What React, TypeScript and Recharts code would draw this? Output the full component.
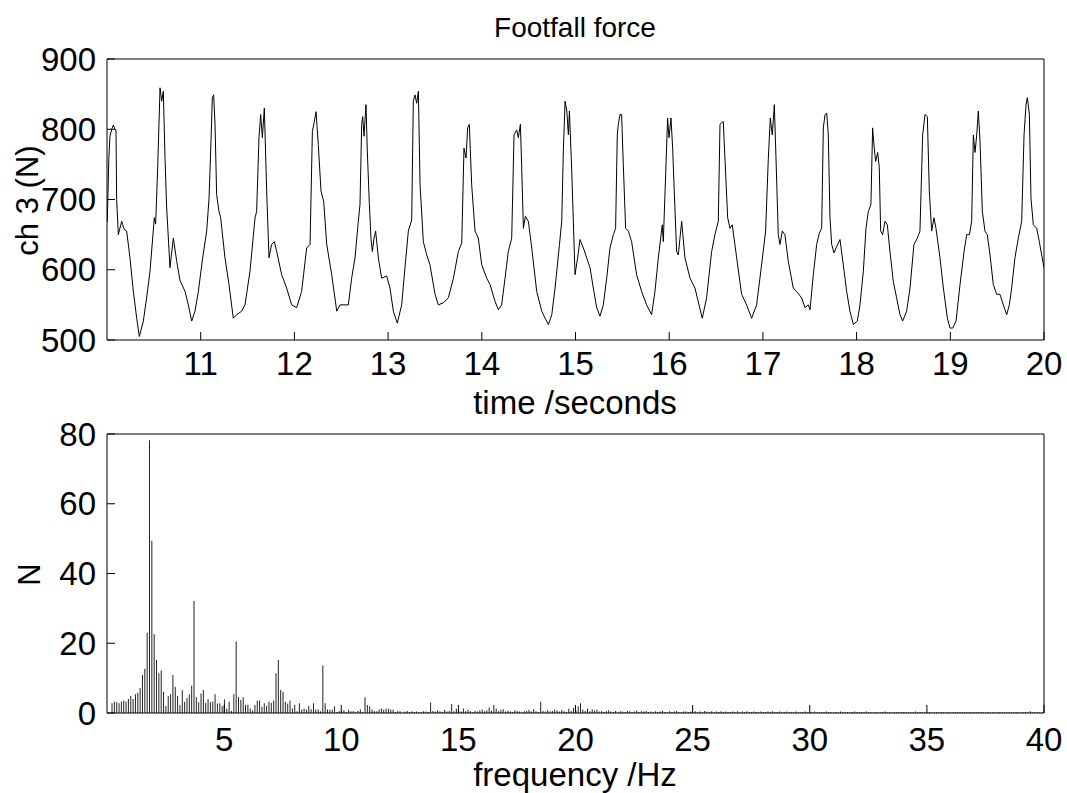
import { LineChart, Line, BarChart, Bar, XAxis, YAxis } from 'recharts'

const FONT = '"Liberation Sans", Arial, Helvetica, sans-serif'
const FS = 33
const TITLE_FS = 28
const YLABEL_FS = 31

// footfall force trace
const timeS = [
  10.003, 10.02, 10.032, 10.05, 10.068, 10.085, 10.096, 10.103, 10.121, 10.157, 10.185, 10.21, 10.245, 10.281, 10.317, 10.345,
  10.388, 10.423, 10.459, 10.505, 10.519, 10.541, 10.566, 10.584, 10.601, 10.619, 10.637, 10.672, 10.708, 10.744, 10.779, 10.833,
  10.868, 10.904, 10.939, 10.975, 11.021, 11.064, 11.089, 11.11, 11.124, 11.138, 11.153, 11.17, 11.195, 11.213, 11.259, 11.302,
  11.348, 11.384, 11.437, 11.473, 11.526, 11.58, 11.597, 11.622, 11.64, 11.658, 11.679, 11.704, 11.729, 11.757, 11.786, 11.811,
  11.864, 11.917, 11.971, 12.024, 12.077, 12.131, 12.167, 12.192, 12.213, 12.231, 12.255, 12.284, 12.313, 12.345, 12.398, 12.452,
  12.487, 12.54, 12.576, 12.611, 12.647, 12.682, 12.7, 12.718, 12.729, 12.743, 12.764, 12.778, 12.8, 12.818, 12.832, 12.85,
  12.867, 12.896, 12.931, 12.985, 13.02, 13.056, 13.098, 13.145, 13.18, 13.216, 13.252, 13.269, 13.287, 13.305, 13.323, 13.341,
  13.376, 13.412, 13.447, 13.501, 13.536, 13.59, 13.643, 13.697, 13.75, 13.786, 13.81, 13.832, 13.849, 13.867, 13.892, 13.928,
  13.963, 13.999, 14.052, 14.088, 14.141, 14.177, 14.212, 14.248, 14.283, 14.319, 14.344, 14.373, 14.39, 14.412, 14.426, 14.444,
  14.465, 14.497, 14.533, 14.586, 14.64, 14.675, 14.711, 14.747, 14.782, 14.829, 14.853, 14.871, 14.889, 14.907, 14.924, 14.935,
  14.96, 14.995, 15.023, 15.048, 15.084, 15.119, 15.155, 15.19, 15.226, 15.261, 15.297, 15.333, 15.368, 15.404, 15.428, 15.446,
  15.457, 15.475, 15.492, 15.51, 15.535, 15.564, 15.599, 15.652, 15.706, 15.759, 15.812, 15.848, 15.884, 15.926, 15.937, 15.962,
  15.983, 15.998, 16.019, 16.037, 16.054, 16.079, 16.097, 16.115, 16.133, 16.168, 16.222, 16.275, 16.318, 16.353, 16.399, 16.453,
  16.488, 16.524, 16.542, 16.559, 16.577, 16.595, 16.624, 16.649, 16.673, 16.72, 16.773, 16.826, 16.88, 16.933, 16.986, 17.029,
  17.058, 17.079, 17.1, 17.122, 17.139, 17.164, 17.182, 17.207, 17.235, 17.271, 17.324, 17.36, 17.413, 17.449, 17.485, 17.503,
  17.538, 17.574, 17.602, 17.627, 17.645, 17.663, 17.681, 17.698, 17.716, 17.734, 17.759, 17.787, 17.823, 17.858, 17.894, 17.929,
  17.965, 18.008, 18.036, 18.072, 18.1, 18.125, 18.153, 18.171, 18.185, 18.203, 18.225, 18.242, 18.257, 18.278, 18.303, 18.328,
  18.356, 18.392, 18.427, 18.463, 18.491, 18.534, 18.57, 18.612, 18.648, 18.676, 18.705, 18.73, 18.755, 18.776, 18.801, 18.826,
  18.847, 18.89, 18.926, 18.969, 18.997, 19.026, 19.061, 19.104, 19.147, 19.175, 19.204, 19.228, 19.246, 19.264, 19.282, 19.299,
  19.317, 19.342, 19.37, 19.395, 19.424, 19.459, 19.495, 19.53, 19.566, 19.602, 19.63, 19.655, 19.69, 19.726, 19.762, 19.787,
  19.808, 19.822, 19.844, 19.861, 19.886, 19.922, 19.95, 19.975, 20.0,
]
const forceN = [
  668, 760, 790, 800, 806, 800, 799, 700, 650, 669, 657, 655, 617, 569, 531, 505,
  527, 560, 598, 674, 665, 745, 859, 840, 854, 760, 688, 603, 645, 612, 585, 569,
  550, 527, 541, 569, 617, 655, 702, 783, 845, 849, 807, 707, 683, 674, 617, 579,
  531, 536, 541, 550, 598, 674, 683, 788, 821, 788, 830, 712, 617, 636, 640, 626,
  593, 574, 550, 546, 569, 631, 636, 797, 811, 825, 778, 712, 697, 636, 593, 541,
  550, 550, 550, 588, 617, 669, 693, 807, 818, 790, 835, 769, 693, 643, 626, 645,
  655, 617, 588, 591, 574, 541, 524, 550, 603, 655, 671, 840, 849, 837, 854, 721,
  640, 621, 607, 565, 550, 553, 560, 588, 626, 638, 773, 759, 802, 807, 721, 655,
  645, 607, 588, 579, 555, 543, 550, 588, 626, 645, 792, 799, 788, 807, 745, 659,
  676, 669, 631, 569, 541, 531, 522, 536, 574, 636, 669, 773, 840, 826, 792, 826,
  740, 593, 617, 643, 631, 617, 603, 574, 546, 534, 550, 588, 631, 650, 659, 792,
  807, 821, 821, 750, 659, 655, 640, 593, 569, 550, 536, 569, 617, 664, 640, 735,
  816, 788, 816, 773, 712, 626, 621, 645, 669, 617, 588, 574, 550, 531, 560, 626,
  650, 669, 807, 809, 811, 759, 674, 659, 664, 617, 565, 550, 531, 550, 607, 655,
  759, 816, 792, 835, 762, 650, 636, 655, 650, 612, 574, 569, 560, 546, 550, 543,
  593, 636, 652, 659, 802, 821, 823, 792, 674, 636, 624, 633, 643, 607, 569, 541,
  522, 527, 550, 598, 659, 683, 693, 802, 778, 754, 767, 745, 655, 650, 669, 664,
  626, 583, 560, 536, 527, 541, 574, 636, 645, 655, 792, 821, 818, 712, 655, 674,
  659, 617, 574, 531, 517, 517, 527, 579, 626, 650, 650, 669, 792, 767, 792, 826,
  783, 683, 655, 650, 621, 579, 565, 565, 550, 536, 550, 574, 617, 645, 669, 792,
  835, 845, 821, 702, 664, 659, 640, 621, 603,
]
const timeTicks = [11, 12, 13, 14, 15, 16, 17, 18, 19, 20]
const forceTicks = [500, 600, 700, 800, 900]

// amplitude spectrum, 0.1 Hz bins from 0.2 Hz
const BIN_START_HZ = 0.2
const BIN_STEP_HZ = 0.1
// 0.2 - 12.6 Hz
const spectrumLow = [
  2.8, 3.2, 3.1, 2.8, 3.3, 3.6, 3.3, 4.0, 4.9, 4.0,
  5.4, 5.8, 7.2, 10.9, 12.7, 23.0, 78.2, 49.4, 22.6, 15.2,
  11.4, 12.2, 6.1, 2.0, 4.9, 5.4, 10.9, 7.5, 4.9, 2.3,
  6.5, 3.2, 4.3, 5.4, 7.8, 32.1, 4.5, 3.1, 5.6, 6.6,
  2.9, 4.0, 3.1, 3.3, 5.4, 2.7, 2.8, 1.9, 3.9, 1.3,
  3.2, 0.6, 5.4, 20.5, 4.6, 3.7, 4.5, 2.4, 2.4, 1.3,
  0.7, 2.3, 3.5, 3.6, 1.8, 2.8, 2.1, 3.2, 2.9, 3.6,
  11.4, 15.2, 6.6, 6.1, 3.2, 2.7, 3.6, 1.3, 2.4, 0.5,
  2.8, 1.0, 1.3, 0.9, 2.1, 1.1, 2.8, 1.0, 1.0, 0.5,
  13.6, 2.8, 1.0, 0.9, 1.0, 1.9, 0.3, 0.5, 0.6, 0.8,
  0.2, 0.9, 0.5, 0.6, 0.2, 0.6, 1.0, 0.3, 4.5, 2.3,
  1.9, 1.0, 0.6, 0.5, 1.0, 1.3, 0.9, 1.3, 1.2, 1.0,
  0.9, 0.3, 0.6, 0.5, 0.1,
]
// 12.7 - 40.0 Hz
const spectrumHigh = [
  0.4, 0.6, 0.3,
  0.5, 0.3, 0.4, 0.2, 0.3, 0.5, 0.4, 0.3, 3.0, 0.6,
  0.4, 0.8, 0.5, 0.3, 0.9, 0.4, 0.6, 2.6, 0.5, 1.2,
  0.7, 0.4, 1.3, 0.6, 0.9, 0.5, 0.3, 0.6, 0.4, 0.7,
  1.0, 0.5, 0.8, 1.6, 0.6, 2.4, 1.2, 0.5, 0.9, 1.1,
  0.4, 0.7, 0.5, 0.3, 0.8, 0.6, 0.4, 0.2, 0.5, 0.6,
  0.9, 0.4, 1.1, 0.5, 0.3, 3.2, 0.6, 0.4, 0.8, 0.5,
  0.6, 1.0, 0.7, 0.4, 0.9, 0.5, 0.3, 1.2, 0.6, 1.4,
  0.8, 1.9, 2.8, 1.0, 0.6, 1.3, 0.5, 1.1, 0.7, 0.9,
  0.4, 0.6, 0.3, 0.5, 0.8, 0.4, 0.3, 0.6, 0.2, 0.5,
  0.4, 0.3, 0.6, 0.5, 0.2, 0.4, 0.7, 0.3, 0.5, 0.4,
  0.6, 0.3, 0.4, 0.2, 0.5, 0.3, 0.4, 0.6, 0.3, 0.2,
  0.5, 0.3, 0.4, 0.6, 0.3, 0.2, 0.4, 0.5, 0.3, 0.4,
  0.3, 0.5, 0.2, 0.4, 0.3, 0.6, 0.4, 0.3, 0.5, 0.2,
  0.4, 0.3, 0.5, 0.2, 0.4, 0.3, 0.2, 0.4, 0.3, 0.5,
  0.2, 0.4, 0.3, 0.5, 0.3, 0.2, 0.4, 0.3, 0.2, 0.4,
  0.3, 0.2, 0.4, 0.3, 0.5, 0.2, 0.3, 0.4, 0.2, 0.3,
  0.4, 0.2, 0.3, 0.2, 0.4, 0.3, 0.2, 0.3, 0.4, 0.2,
  0.3, 0.2, 0.4, 0.3, 0.2, 0.3, 0.2, 0.4, 0.3, 0.2,
  0.2, 0.3, 0.2, 0.4, 0.3, 0.2, 0.3, 0.2, 0.3, 0.4,
  0.3, 0.2, 0.3, 0.2, 0.4, 0.2, 0.3, 0.2, 0.3, 0.2,
  0.2, 0.3, 0.4, 0.2, 0.3, 0.2, 0.2, 0.3, 0.2, 0.3,
  0.3, 0.2, 0.2, 0.3, 0.2, 0.4, 0.2, 0.3, 0.2, 0.2,
  0.2, 0.3, 0.2, 0.2, 0.3, 0.2, 0.3, 0.2, 0.2, 0.3,
  0.2, 0.2, 0.3, 0.2, 0.2, 0.3, 0.2, 0.2, 0.3, 0.2,
  0.3, 0.2, 0.2, 0.3, 0.2, 0.2, 0.3, 0.2, 0.2, 0.2,
  0.2, 0.3, 0.2, 0.2, 0.2, 0.3, 0.2, 0.2, 0.3, 0.2,
  0.2, 0.2, 0.3, 0.2, 0.5, 0.2, 0.2, 0.3, 0.2, 0.2,
  0.2,
]
const freqTicks = [5, 10, 15, 20, 25, 30, 35, 40]
const ampTicks = [0, 20, 40, 60, 80]

const forceData = timeS.map((t, i) => ({ t, force: forceN[i] }))
const spectrumData = [...spectrumLow, ...spectrumHigh].map((n, i) => ({
  f: Number((BIN_START_HZ + i * BIN_STEP_HZ).toFixed(1)),
  n,
}))

const tickStyle = { fill: '#000', fontSize: FS, fontFamily: FONT }
const margin = { top: 58, right: 22, left: 106, bottom: 59 }

const textStyle: React.CSSProperties = {
  position: 'absolute',
  fontFamily: FONT,
  fontSize: FS,
  lineHeight: `${FS}px`,
  color: '#000',
  whiteSpace: 'nowrap',
  textAlign: 'center',
}
const yLabelStyle: React.CSSProperties = {
  ...textStyle,
  fontSize: YLABEL_FS,
  lineHeight: `${YLABEL_FS}px`,
  width: 200,
  transform: 'rotate(-90deg)',
}

export default function App() {
  return (
    <div style={{ position: 'relative', width: 1067, height: 793, background: '#fff', overflow: 'hidden' }}>
      <style>{'body{margin:0;background:#fff}'}</style>

      <div style={{ position: 'absolute', left: 0, top: 0 }}>
        <LineChart width={1067} height={400} data={forceData} margin={margin}>
          <XAxis dataKey="t" type="number" domain={[10, 20]} ticks={timeTicks} allowDataOverflow
            height={1} tickSize={-8} tickMargin={20} stroke="#000" tick={tickStyle} interval={0} />
          <XAxis xAxisId="top" orientation="top" dataKey="t" type="number" domain={[10, 20]} ticks={timeTicks}
            height={1} tickSize={-8} tick={false} stroke="#000" interval={0} />
          <YAxis type="number" domain={[500, 900]} ticks={forceTicks} allowDataOverflow
            width={1} tickSize={-8} tickMargin={19} stroke="#000" tick={tickStyle} interval={0} />
          <YAxis yAxisId="r" orientation="right" type="number" domain={[500, 900]} ticks={forceTicks}
            width={1} tickSize={-8} tick={false} stroke="#000" interval={0} />
          <Line dataKey="force" type="linear" stroke="#000" strokeWidth={1} dot={false} isAnimationActive={false} />
        </LineChart>
      </div>

      <div style={{ position: 'absolute', left: 0, top: 400 }}>
        <BarChart width={1067} height={393} data={spectrumData} margin={{ ...margin, top: 33, bottom: 79 }} barGap={0} barCategoryGap={0}>
          <XAxis dataKey="f" type="number" domain={[0, 40]} ticks={freqTicks} allowDataOverflow
            height={1} tickSize={-8} tickMargin={23} stroke="#000" tick={tickStyle} interval={0} />
          <XAxis xAxisId="top" orientation="top" dataKey="f" type="number" domain={[0, 40]} ticks={freqTicks}
            height={1} tickSize={-8} tick={false} stroke="#000" interval={0} />
          <YAxis type="number" domain={[0, 80]} ticks={ampTicks} allowDataOverflow
            width={1} tickSize={-8} tickMargin={19} stroke="#000" tick={tickStyle} interval={0} />
          <YAxis yAxisId="r" orientation="right" type="number" domain={[0, 80]} ticks={ampTicks}
            width={1} tickSize={-8} tick={false} stroke="#000" interval={0} />
          <Bar dataKey="n" fill="#222" barSize={1} isAnimationActive={false} />
        </BarChart>
      </div>

      <div style={{ ...textStyle, fontSize: TITLE_FS, lineHeight: `${TITLE_FS}px`, left: 375, width: 400, top: 14 }}>Footfall force</div>
      <div style={{ ...textStyle, left: 375, width: 400, top: 386 }}>time /seconds</div>
      <div style={{ ...textStyle, left: 375, width: 400, top: 758 }}>frequency /Hz</div>
      <div style={{ ...yLabelStyle, left: 27 - 100, top: 200 - YLABEL_FS / 2 }}>ch 3 (N)</div>
      <div style={{ ...yLabelStyle, left: 29 - 100, top: 574 - YLABEL_FS / 2 }}>N</div>
    </div>
  )
}
